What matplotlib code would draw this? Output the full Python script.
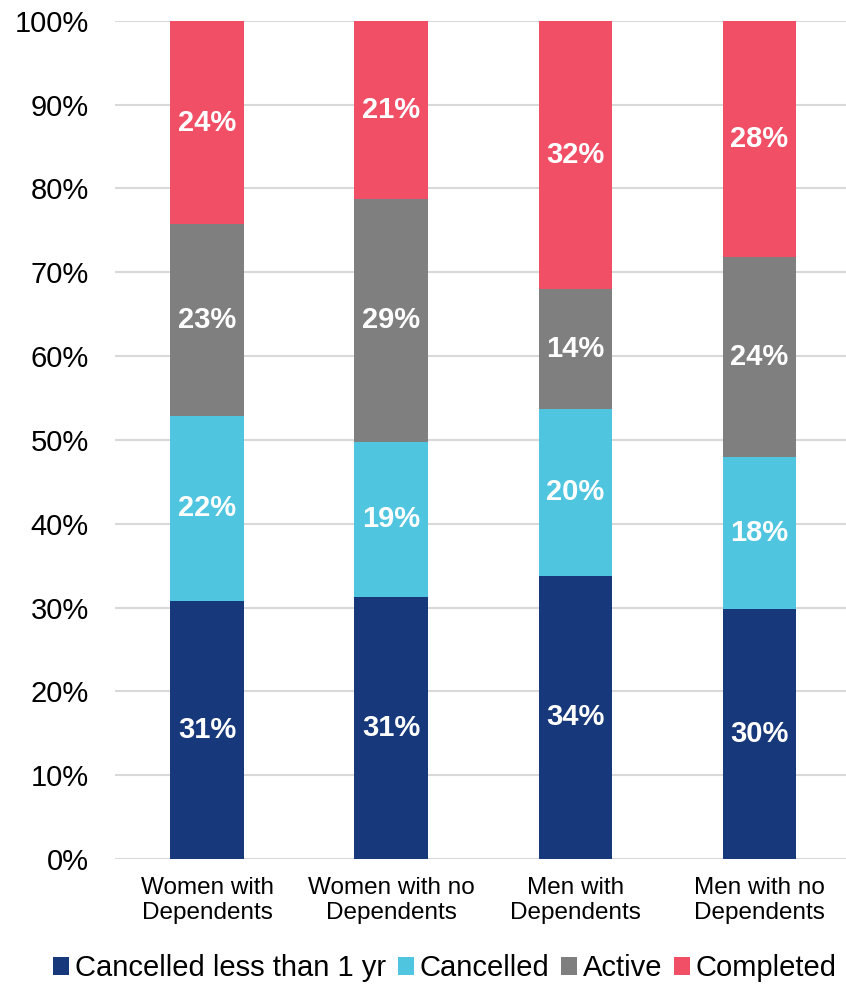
import matplotlib.pyplot as plt
import numpy as np

plt.rcParams['font.family'] = ['Liberation Sans', 'DejaVu Sans']

categories = ['Women with\nDependents', 'Women with no\nDependents', 'Men with\nDependents', 'Men with no\nDependents']
series_names = ['Cancelled less than 1 yr', 'Cancelled', 'Active', 'Completed']
cancelled_lt1 = [30.8, 31.2, 33.8, 29.8]
cancelled = [22.1, 18.6, 19.9, 18.2]
active = [22.8, 28.9, 14.3, 23.8]
completed = [24.3, 21.3, 32.0, 28.2]
colors = ['#17387a', '#4fc5df', '#7f7f7f', '#f04f66']

fig = plt.figure(figsize=(8.46, 9.84), dpi=100)
ax = fig.add_axes([0.136, 0.127, 0.864, 0.852])

x = np.arange(len(categories))
bottom = np.zeros(len(categories))
for vals, name, col in zip([cancelled_lt1, cancelled, active, completed], series_names, colors):
    vals = np.array(vals)
    ax.bar(x, vals, 0.4, bottom=bottom, color=col, label=name, zorder=3)
    for xi, b, v in zip(x, bottom, vals):
        ax.text(xi, b + v / 2, f'{v:.0f}%', ha='center', va='center',
                color='white', fontsize=21, fontweight='bold', zorder=4)
    bottom += vals

ax.set_xlim(-0.5, 3.47)
ax.set_ylim(0, 100)
ax.set_yticks(np.arange(0, 101, 10))
ax.set_yticklabels([f'{t}%' for t in range(0, 101, 10)], fontsize=21)
ax.set_xticks(x)
ax.set_xticklabels(categories, fontsize=17.5, linespacing=1.2)
ax.tick_params(length=0)
ax.tick_params(axis='y', pad=19)
ax.tick_params(axis='x', pad=13)
ax.grid(axis='y', color='#d9d9d9', linewidth=1.5, zorder=0)
for s in ax.spines.values():
    s.set_visible(False)

fig.legend(loc='center', bbox_to_anchor=(0.526, 0.016), ncol=4, frameon=False,
           fontsize=21, handlelength=0.55, handleheight=0.55, handletextpad=0.2,
           columnspacing=0.4, borderpad=0)

fig.savefig('out.png', dpi=100)
